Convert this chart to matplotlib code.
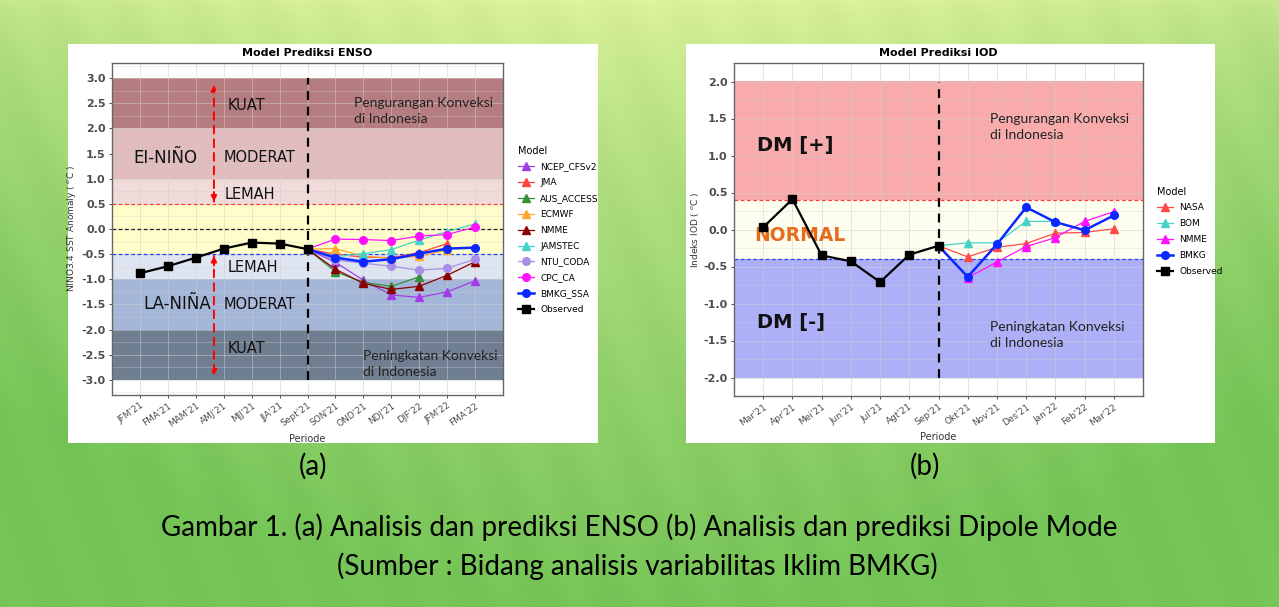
import numpy as np
import matplotlib
matplotlib.use("Agg")
import matplotlib.pyplot as plt
from matplotlib.patches import Rectangle
from matplotlib.lines import Line2D

# ---------------- data: ENSO ----------------
enso_periods = ["JFM'21", "FMA'21", "MAM'21", "AMJ'21", "MJJ'21", "JJA'21", "Sept'21",
                "SON'21", "OND'21", "NDJ'21", "DJF'22", "JFM'22", "FMA'22"]
enso_observed = [-0.88, -0.74, -0.57, -0.39, -0.27, -0.29, -0.40]
# model runs start at Sept'21
ncep_cfsv2 = [-0.40, -0.66, -1.02, -1.31, -1.36, -1.25, -1.03]
jma = [-0.40, -0.50, -0.56, -0.57, -0.47, -0.29]
aus_access = [-0.40, -0.85, -1.06, -1.14, -0.95]
ecmwf = [-0.40, -0.39, -0.54, -0.58, -0.54, -0.42]
nmme_enso = [-0.40, -0.80, -1.08, -1.20, -1.14, -0.92, -0.65]
jamstec = [-0.40, -0.55, -0.49, -0.41, -0.22, -0.05, 0.10]
ntu_coda = [-0.40, -0.62, -0.68, -0.74, -0.82, -0.78, -0.60]
cpc_ca = [-0.40, -0.20, -0.21, -0.23, -0.14, -0.11, 0.04]
bmkg_ssa = [-0.40, -0.57, -0.65, -0.60, -0.49, -0.39, -0.37]

# ---------------- data: IOD ----------------
iod_months = ["Mar'21", "Apr'21", "Mei'21", "Jun'21", "Jul'21", "Agt'21", "Sep'21",
              "Okt'21", "Nov'21", "Des'21", "Jan'22", "Feb'22", "Mar'22"]
iod_observed = [0.03, 0.41, -0.35, -0.43, -0.71, -0.34, -0.22]
nasa = [-0.22, -0.37, -0.24, -0.19, -0.05, -0.04, 0.01]
bom = [-0.22, -0.18, -0.18, 0.11, 0.11]
nmme_iod = [-0.22, -0.65, -0.44, -0.23, -0.11, 0.11, 0.24]
bmkg = [-0.22, -0.64, -0.20, 0.30, 0.10, -0.01, 0.19]

W, H = 1279, 607
fig = plt.figure(figsize=(W / 100, H / 100), dpi=100)

# green gradient background with faint diagonal streaks
bg = fig.add_axes([0, 0, 1, 1], zorder=-5)
py = np.arange(H)[:, None]
px = np.arange(W)[None, :]
yy = py / H
xx = px / W
top = np.array([0.87, 0.95, 0.62])
bot = np.array([0.46, 0.77, 0.34])
t = np.clip(yy ** 0.7 + 0.25 * (2 * np.abs(xx - 0.5)) ** 2, 0, 1)
stripes = 0.009 * np.sin(2 * np.pi * (px - 0.35 * py) / 70.0)
img = top[None, None, :] * (1 - t[..., None]) + bot[None, None, :] * t[..., None] + stripes[..., None]
bg.imshow(np.clip(img, 0, 1), aspect="auto", extent=[0, 1, 0, 1], interpolation="bilinear")
bg.axis("off")

for x0, x1 in [(68, 598), (686, 1215)]:
    fig.patches.append(Rectangle((x0 / W, 1 - 443 / H), (x1 - x0) / W, (443 - 44) / H,
                                 transform=fig.transFigure, facecolor="white",
                                 edgecolor="none", zorder=-1))

TICK_C = "#4d4d4d"


def style_axes(ax, labels, ylim, yticks):
    ax.set_xlim(0, 14)
    ax.set_ylim(*ylim)
    ax.set_xticks(range(1, 14))
    ax.set_xticklabels(labels, rotation=35, ha="right", rotation_mode="anchor",
                       fontsize=6.5, color=TICK_C)
    ax.set_yticks(yticks)
    ax.set_yticklabels([f"{v:.1f}" for v in yticks], fontsize=8, color=TICK_C,
                       fontweight="bold")
    ax.set_yticks(np.arange(yticks[0] - 0.25, yticks[-1] + 0.5, 0.5), minor=True)
    ax.set_axisbelow(True)
    ax.grid(True, which="major", color="#cfcfcf", lw=0.6, alpha=0.6)
    ax.grid(True, which="minor", axis="y", color="#cfcfcf", lw=0.4, alpha=0.6)
    ax.tick_params(axis="both", which="major", length=2.5, width=0.6, color="#333333", pad=2)
    ax.tick_params(axis="y", which="minor", length=0)
    for s in ax.spines.values():
        s.set_color("#666666")
        s.set_linewidth(1.0)


cap = dict(fontsize=10, family="Lato", color="#222222", ha="left", va="center",
           linespacing=1.4)
leg_kw = dict(title="Model", loc="upper left", frameon=False, fontsize=6.5,
              title_fontsize=7, alignment="left", borderpad=0, labelspacing=0.76,
              handlelength=1.8, handletextpad=0.7)

# ---------------- panel (a) ENSO ----------------
ax1 = fig.add_axes([112 / W, 1 - 395 / H, (503 - 112) / W, (395 - 63) / H])
style_axes(ax1, enso_periods, (-3.3, 3.3), np.arange(-3.0, 3.01, 0.5))
for lo, hi, c in [(2, 3, "#b57d7f"), (1, 2, "#e0bcbf"), (0.5, 1, "#f0dada"),
                  (-0.5, 0.5, "#fffdc9"), (-1, -0.5, "#dee4f0"),
                  (-2, -1, "#a4b7d9"), (-3, -2, "#707e92")]:
    ax1.axhspan(lo, hi, color=c, zorder=0.2, lw=0)
ax1.axhline(0.5, color="#ff3b3b", ls=(0, (3, 2)), lw=0.9, zorder=1)
ax1.axhline(0.0, color="#222222", ls=(0, (3, 2)), lw=0.9, zorder=1)
ax1.axhline(-0.5, color="#2442ff", ls=(0, (3, 2)), lw=0.9, zorder=1)
ax1.plot([7, 7], [-3, 3], color="black", ls=(0, (4, 3)), lw=1.6, zorder=1)

for y0, y1 in [(0.49, 2.92), (-0.48, -2.97)]:
    ax1.annotate("", xy=(3.65, y1), xytext=(3.65, y0),
                 arrowprops=dict(arrowstyle="-|>", color="red", lw=1.4,
                                 ls=(0, (4, 3)), mutation_scale=8), zorder=2)
    ax1.annotate("", xy=(3.65, y0), xytext=(3.65, y0 + 0.3 * np.sign(y1 - y0)),
                 arrowprops=dict(arrowstyle="-|>", color="red", lw=1.4,
                                 mutation_scale=8), zorder=2)

lbl = dict(fontsize=10.5, color="#111111", va="center", zorder=3)
ax1.text(4.8, 2.45, "KUAT", ha="center", **lbl)
ax1.text(1.9, 1.42, "EI-NIÑO", ha="center", fontsize=12, color="#111111", va="center")
ax1.text(5.3, 1.42, "MODERAT", ha="center", **lbl)
ax1.text(4.95, 0.68, "LEMAH", ha="center", **lbl)
ax1.text(5.05, -0.76, "LEMAH", ha="center", **lbl)
ax1.text(2.35, -1.5, "LA-NIÑA", ha="center", fontsize=12, color="#111111", va="center")
ax1.text(5.3, -1.5, "MODERAT", ha="center", **lbl)
ax1.text(4.8, -2.37, "KUAT", ha="center", **lbl)
ax1.text(8.65, 2.34, "Pengurangan Konveksi\ndi Indonesia", **cap)
ax1.text(9.0, -2.68, "Peningkatan Konveksi\ndi Indonesia", **cap)

x_obs = np.arange(1, 1 + len(enso_observed))
enso_series = [
    ("NCEP_CFSv2", ncep_cfsv2, "#a23de6", "^", 0.9),
    ("JMA", jma, "#ff4242", "^", 0.9),
    ("AUS_ACCESS", aus_access, "#33913c", "^", 0.9),
    ("ECMWF", ecmwf, "#ffa630", "^", 0.9),
    ("NMME", nmme_enso, "#8b0000", "^", 0.9),
    ("JAMSTEC", jamstec, "#45d3c9", "^", 0.9),
    ("NTU_CODA", ntu_coda, "#a88ee8", "o", 0.9),
    ("CPC_CA", cpc_ca, "#ff10ff", "o", 0.9),
    ("BMKG_SSA", bmkg_ssa, "#0a28ff", "o", 1.8),
]
handles = []
for name, vals, c, m, lw in enso_series:
    xs = np.arange(7, 7 + len(vals))
    ax1.plot(xs, vals, color=c, marker=m, ms=5.5, lw=lw, zorder=2)
    handles.append(Line2D([0], [0], color=c, marker=m, ms=5.5, lw=lw, label=name))
ax1.plot(x_obs, enso_observed, color="black", marker="s", ms=5.5, lw=1.6, zorder=3)
handles.append(Line2D([0], [0], color="black", marker="s", ms=5.5, lw=1.6, label="Observed"))

ax1.set_title("Model Prediksi ENSO", fontsize=8, fontweight="bold", pad=5)
ax1.set_xlabel("Periode", fontsize=7, color="#333333")
ax1.set_ylabel("NINO3.4 SST Anomaly ( $^{o}$C )", fontsize=6.5, color="#333333")
ax1.yaxis.set_label_coords(-0.087, 0.5)
ax1.xaxis.set_label_coords(0.5, -0.117)
fig.legend(handles=handles, bbox_to_anchor=(513 / W, 1 - 141 / H), **leg_kw)

# ---------------- panel (b) IOD ----------------
ax2 = fig.add_axes([734 / W, 1 - 396 / H, (1143 - 734) / W, (396 - 63) / H])
style_axes(ax2, iod_months, (-2.2, 2.2), np.arange(-2.0, 2.01, 0.5))
for lo, hi, c in [(0.4, 2, "#f9abac"), (-0.4, 0.4, "#fefef0"), (-2, -0.4, "#adb0f7")]:
    ax2.axhspan(lo, hi, color=c, zorder=0.2, lw=0)
ax2.axhline(0.4, color="#ff3b3b", ls=(0, (3, 2)), lw=0.9, zorder=1)
ax2.axhline(-0.4, color="#2442ff", ls=(0, (3, 2)), lw=0.9, zorder=1)
ax2.plot([7, 7], [-2, 2], color="black", ls=(0, (4, 3)), lw=1.6, zorder=1)

ax2.text(0.8, 1.14, "DM [+]", fontsize=14, fontweight="bold", color="#111111", va="center")
ax2.text(0.7, -0.08, "NORMAL", fontsize=13.5, fontweight="bold", color="#e46c1c", va="center")
ax2.text(0.8, -1.26, "DM [-]", fontsize=14, fontweight="bold", color="#111111", va="center")
ax2.text(8.77, 1.38, "Pengurangan Konveksi\ndi Indonesia", **cap)
ax2.text(8.77, -1.42, "Peningkatan Konveksi\ndi Indonesia", **cap)

iod_series = [
    ("NASA", nasa, "#ff4a4a", "^", 0.9),
    ("BOM", bom, "#45d3c9", "^", 0.9),
    ("NMME", nmme_iod, "#ff10ff", "^", 0.9),
    ("BMKG", bmkg, "#0a28ff", "o", 1.8),
]
handles2 = []
for name, vals, c, m, lw in iod_series:
    xs = np.arange(7, 7 + len(vals))
    ax2.plot(xs, vals, color=c, marker=m, ms=5.5, lw=lw, zorder=2)
    handles2.append(Line2D([0], [0], color=c, marker=m, ms=5.5, lw=lw, label=name))
ax2.plot(np.arange(1, 1 + len(iod_observed)), iod_observed, color="black", marker="s",
         ms=5.5, lw=1.6, zorder=3)
handles2.append(Line2D([0], [0], color="black", marker="s", ms=5.5, lw=1.6, label="Observed"))

ax2.set_title("Model Prediksi IOD", fontsize=8, fontweight="bold", pad=5)
ax2.set_xlabel("Periode", fontsize=7, color="#333333")
ax2.set_ylabel("Indeks IOD ( $^{o}$C )", fontsize=6.5, color="#333333")
ax2.yaxis.set_label_coords(-0.081, 0.5)
ax2.xaxis.set_label_coords(0.5, -0.108)
fig.legend(handles=handles2, bbox_to_anchor=(1152 / W, 1 - 182 / H), **leg_kw)

# ---------------- captions ----------------
capf = dict(family="Lato", color="black", ha="center", va="center")
fig.text(313 / W, 1 - 466 / H, "(a)", fontsize=20, **capf)
fig.text(925 / W, 1 - 466 / H, "(b)", fontsize=20, **capf)
fig.text(639 / W, 1 - 527 / H,
         "Gambar 1. (a) Analisis dan prediksi ENSO (b) Analisis dan prediksi Dipole Mode",
         fontsize=20, **capf)
fig.text(637 / W, 1 - 566 / H, "(Sumber : Bidang analisis variabilitas Iklim BMKG)",
         fontsize=20, **capf)

fig.savefig("out.png", dpi=100)
